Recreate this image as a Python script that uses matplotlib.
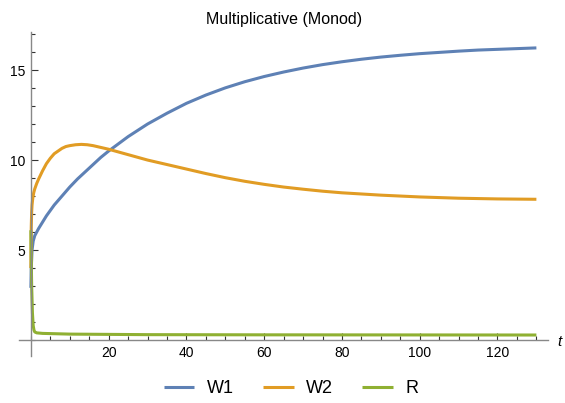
import numpy as np
import matplotlib.pyplot as plt
from matplotlib.ticker import MultipleLocator

plt.rcParams['font.family'] = ['Liberation Sans', 'DejaVu Sans']

t_w1 = [0, 0.1, 0.3, 0.6, 1, 2, 3, 4, 5, 6, 7, 8, 10, 12, 14, 16, 18, 20,
        22.5, 25, 27.5, 30, 35, 40, 45, 50, 55, 60, 65, 70, 75, 80, 85, 90,
        95, 100, 105, 110, 115, 120, 125, 130]
w1 = [2.9, 4.0, 5.0, 5.5, 5.8, 6.2, 6.55, 6.9, 7.2, 7.5, 7.75, 8.0, 8.5,
      8.95, 9.35, 9.75, 10.15, 10.5, 10.9, 11.3, 11.65, 12.0, 12.6, 13.15,
      13.61, 14.01, 14.35, 14.64, 14.89, 15.11, 15.30, 15.46, 15.60, 15.72,
      15.82, 15.91, 15.98, 16.05, 16.11, 16.15, 16.19, 16.23]

t_w2 = [0, 0.05, 0.1, 0.2, 0.3, 0.5, 0.75, 1, 1.5, 2, 3, 4, 5, 6, 7, 8, 9,
        10, 11.5, 13, 14.5, 16, 18, 20, 25, 30, 35, 40, 45, 50, 55, 60, 65,
        70, 75, 80, 90, 100, 110, 120, 130]
w2 = [4.0, 5.5, 6.3, 7.1, 7.5, 7.9, 8.2, 8.4, 8.7, 8.95, 9.4, 9.8, 10.1,
      10.35, 10.5, 10.65, 10.75, 10.8, 10.85, 10.87, 10.85, 10.8, 10.7, 10.6,
      10.3, 10.0, 9.75, 9.5, 9.25, 9.02, 8.82, 8.65, 8.5, 8.38, 8.27, 8.18,
      8.05, 7.95, 7.88, 7.84, 7.82]

t_r = [0, 0.1, 0.2, 0.4, 0.6, 0.8, 1, 1.5, 3, 10, 30, 60, 130]
r = [6.1, 4.5, 3.0, 1.5, 0.8, 0.55, 0.45, 0.4, 0.37, 0.33, 0.3, 0.29, 0.28]

labels = ['W1', 'W2', 'R']
colors = ['#5E81B5', '#E19C24', '#8FB032']

fig = plt.figure(figsize=(5.65, 4.03), dpi=100)
ax = fig.add_axes([0.034, 0.116, 0.936, 0.804])

for tt, yy, lab, c in zip([t_w1, t_w2, t_r], [w1, w2, r], labels, colors):
    ax.plot(tt, yy, color=c, lw=2.2, label=lab, solid_capstyle='butt')

ax.set_xlim(-3, 133)
ax.set_ylim(-0.9, 17.1)

for s in ['top', 'right']:
    ax.spines[s].set_visible(False)
ax.spines['left'].set_position(('data', 0))
ax.spines['bottom'].set_position(('data', 0))
for s in ['left', 'bottom']:
    ax.spines[s].set_color('#888888')
    ax.spines[s].set_linewidth(1.0)

ax.set_xticks([20, 40, 60, 80, 100, 120])
ax.set_yticks([5, 10, 15])
ax.xaxis.set_minor_locator(MultipleLocator(5))
ax.yaxis.set_minor_locator(MultipleLocator(1))
ax.tick_params(which='both', direction='in', color='#333333',
               labelsize=10, pad=4, width=0.8)
ax.tick_params(which='major', length=5)
ax.tick_params(which='minor', length=3)

ax.set_title('Multiplicative (Monod)', fontsize=11.5, pad=6)
ax.text(1.018, 0.045, 't', transform=ax.transAxes, fontsize=11,
        style='italic', va='center', ha='left')

fig.legend(loc='lower center', ncol=3, frameon=False, fontsize=13,
           bbox_to_anchor=(0.515, -0.025), handlelength=1.7, columnspacing=1.6,
           handletextpad=0.7)

fig.savefig('out.png', dpi=100)
